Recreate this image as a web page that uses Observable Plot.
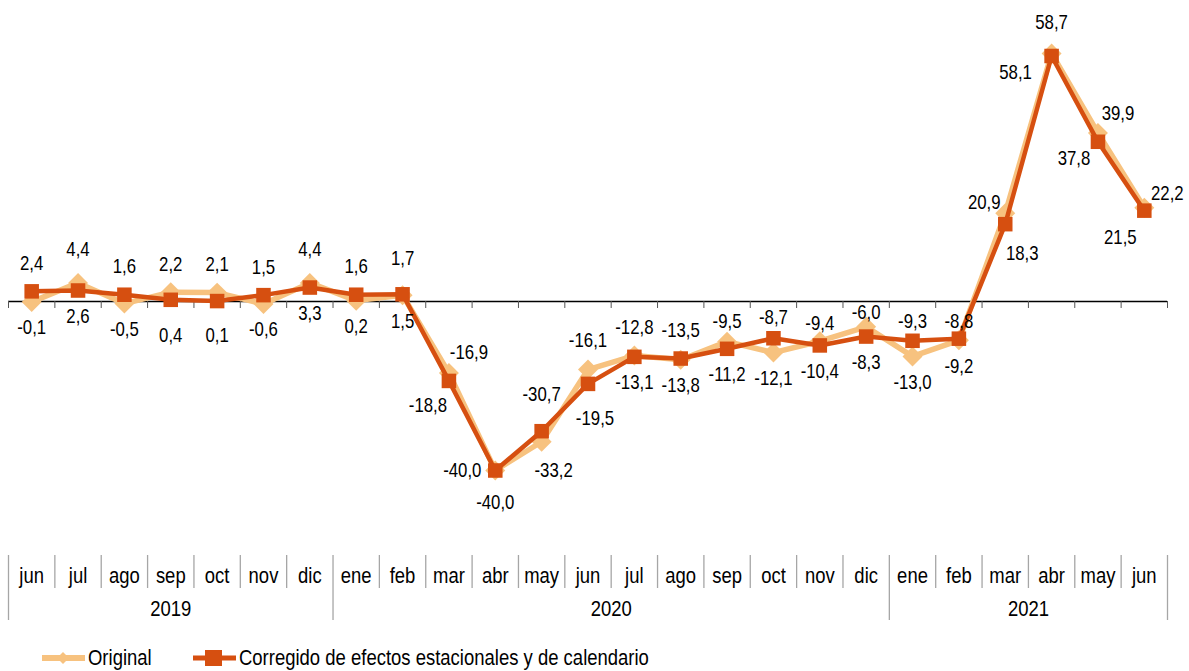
<!DOCTYPE html>
<html>
<head>
<meta charset="utf-8">
<script src="https://cdn.jsdelivr.net/npm/d3@7"></script>
<script src="https://cdn.jsdelivr.net/npm/@observablehq/plot@0.6"></script>
<style>
  body { margin: 0; background: #fff; font-family: "Liberation Sans", Arial, sans-serif; }
  #chart svg { display: block; }
  #legend { position: relative; width: 1189px; height: 31px; font-size: 22px; color: #000; }
  .item { position: absolute; top: 5px; height: 26px; display: flex; align-items: center; white-space: nowrap; }
  .item svg { display: block; margin-right: 3px; }
  .item span { display: inline-block; transform: scaleX(0.84); transform-origin: left center; }
</style>
</head>
<body>
<div id="chart"></div>
<div id="legend"></div>
<script>
// ---- data ----
const months = ["jun","jul","ago","sep","oct","nov","dic","ene","feb","mar","abr","may","jun","jul","ago","sep","oct","nov","dic","ene","feb","mar","abr","may","jun"];
const years = ["2019","2019","2019","2019","2019","2019","2019","2020","2020","2020","2020","2020","2020","2020","2020","2020","2020","2020","2020","2021","2021","2021","2021","2021","2021"];
const original = [-0.1, 4.4, -0.5, 2.2, 2.1, -0.6, 4.4, 0.2, 1.5, -16.9, -40.0, -33.2, -16.1, -12.8, -13.8, -9.5, -12.1, -9.4, -6.0, -13.0, -9.2, 20.9, 58.7, 39.9, 22.2];
const corrected = [2.4, 2.6, 1.6, 0.4, 0.1, 1.5, 3.3, 1.6, 1.7, -18.8, -40.0, -30.7, -19.5, -13.1, -13.5, -11.2, -8.7, -10.4, -8.3, -9.3, -8.8, 18.3, 58.1, 37.8, 21.5];
const seriesNames = ["Original", "Corregido de efectos estacionales y de calendario"];

// ---- styles ----
const colOrig = "#F7C27F";
const colCorr = "#D64F10";
const fontFamily = '"Liberation Sans", Arial, sans-serif';
const squeeze = 0.84; // narrow look of the original typeface

const idx = d3.range(months.length);
const rowsO = idx.map(i => ({i, v: original[i]}));
const rowsC = idx.map(i => ({i, v: corrected[i]}));

// boundaries between months
const bounds = d3.range(months.length + 1).map(k => k - 0.5);
const yearGroups = d3.groups(idx, i => years[i]).map(([yr, arr]) => ({year: yr, first: d3.min(arr), last: d3.max(arr)}));
const yearBounds = new Set([-0.5, ...yearGroups.map(g => g.last + 0.5)]);
const monthBounds = bounds.filter(b => !yearBounds.has(b));

// label placement (pixel offsets); default: higher value above, lower value below
const special = {
  "o1": [0, -33], "o6": [0, -33], "c3": [0, 36], "c4": [0, 35], "c8": [0, -36],
  "o9": [20, -20], "c9": [-21, 25],
  "c10": [-33, 0], "o10": [0, 32],
  "c11": [0, -37], "o11": [12, 29],
  "o12": [0, -29], "c12": [7, 35],
  "o15": [0, -20], "c16": [0, -21], "o17": [0, -18], "o18": [0, -14],
  "c19": [0, -19], "c20": [0, -17],
  "o21": [-21, -11], "c21": [17, 29],
  "o22": [0, -31], "c22": [-36, 17],
  "o23": [20, -19], "c23": [-24, 17],
  "o24": [23, -14], "c24": [-24, 27]
};
const fmt = v => v.toFixed(1).replace(".", ",");
const labels = [];
idx.forEach(i => {
  const o = original[i], c = corrected[i];
  const oHigher = o > c;
  labels.push({i, v: o, off: special["o" + i] || (oHigher ? [0, -28] : [0, 26])});
  labels.push({i, v: c, off: special["c" + i] || (oHigher ? [0, 26] : [0, -28])});
});
const labelGroups = d3.groups(labels, d => d.off.join(","));
const labelMarks = labelGroups.map(([k, arr]) => Plot.text(arr, {
  x: "i", y: "v", text: d => fmt(d.v), dx: arr[0].off[0], dy: arr[0].off[1],
  fontSize: 20, fill: "#000"
}));

const chart = Plot.plot({
  width: 1189,
  height: 640,
  marginLeft: 8,
  marginRight: 22,
  marginTop: 0,
  marginBottom: 20,
  x: {type: "linear", domain: [-0.5, months.length - 0.5], axis: null},
  y: {type: "linear", domain: [-40, 58.1], range: [470, 55.5], axis: null},
  style: {fontFamily, fontSize: "20px", color: "#000", background: "#fff"},
  marks: [
    Plot.ruleY([0], {stroke: "#000", strokeWidth: 1.3}),
    Plot.ruleX(bounds, {x: d => d, y1: () => 0, y2: () => 0, insetBottom: -7, stroke: "#555"}),
    Plot.ruleX(monthBounds, {x: d => d, insetTop: 555, insetBottom: 32, stroke: "#a6a6a6", strokeWidth: 1.3}),
    Plot.ruleX([...yearBounds], {x: d => d, insetTop: 555, insetBottom: 0, stroke: "#a6a6a6", strokeWidth: 1.3}),
    Plot.text(idx, {x: d => d, text: d => months[d], frameAnchor: "bottom", lineAnchor: "middle", dy: -45, fontSize: 22}),
    Plot.text(yearGroups, {x: d => (d.first + d.last) / 2, text: "year", frameAnchor: "bottom", lineAnchor: "middle", dy: -12, fontSize: 22}),
    Plot.line(rowsO, {x: "i", y: "v", stroke: colOrig, strokeWidth: 5.5}),
    Plot.dot(rowsO, {x: "i", y: "v", symbol: "diamond2", r: 9, fill: colOrig, stroke: "none"}),
    Plot.line(rowsC, {x: "i", y: "v", stroke: colCorr, strokeWidth: 4.5}),
    Plot.dot(rowsC, {x: "i", y: "v", symbol: "square", r: 8.2, fill: colCorr, stroke: "none"}),
    ...labelMarks
  ]
});

// narrow the text horizontally around its anchor
chart.querySelectorAll("text").forEach(t => {
  const tr = t.getAttribute("transform");
  if (tr) {
    t.setAttribute("transform", tr + ` scale(${squeeze},1)`);
  } else {
    const x = +(t.getAttribute("x") || 0), y = +(t.getAttribute("y") || 0);
    t.removeAttribute("x"); t.removeAttribute("y");
    t.setAttribute("transform", `translate(${x},${y}) scale(${squeeze},1)`);
  }
});
document.getElementById("chart").appendChild(chart);

// ---- legend ----
const legend = document.getElementById("legend");
const swatches = [
  {name: seriesNames[0], color: colOrig, shape: "diamond", left: 42, lw: 6},
  {name: seriesNames[1], color: colCorr, shape: "square", left: 193, lw: 5}
];
swatches.forEach(s => {
  const item = document.createElement("div");
  item.className = "item";
  item.style.left = s.left + "px";
  const marker = s.shape === "diamond"
    ? `<path d="M21,4 L27,10 L21,16 L15,10 Z" fill="${s.color}"/>`
    : `<rect x="12" y="2" width="17" height="16" fill="${s.color}"/>`;
  item.innerHTML = `<svg width="43" height="20"><line x1="0" x2="43" y1="10" y2="10" stroke="${s.color}" stroke-width="${s.lw}"/>${marker}</svg><span>${s.name}</span>`;
  legend.appendChild(item);
});
</script>
</body>
</html>
